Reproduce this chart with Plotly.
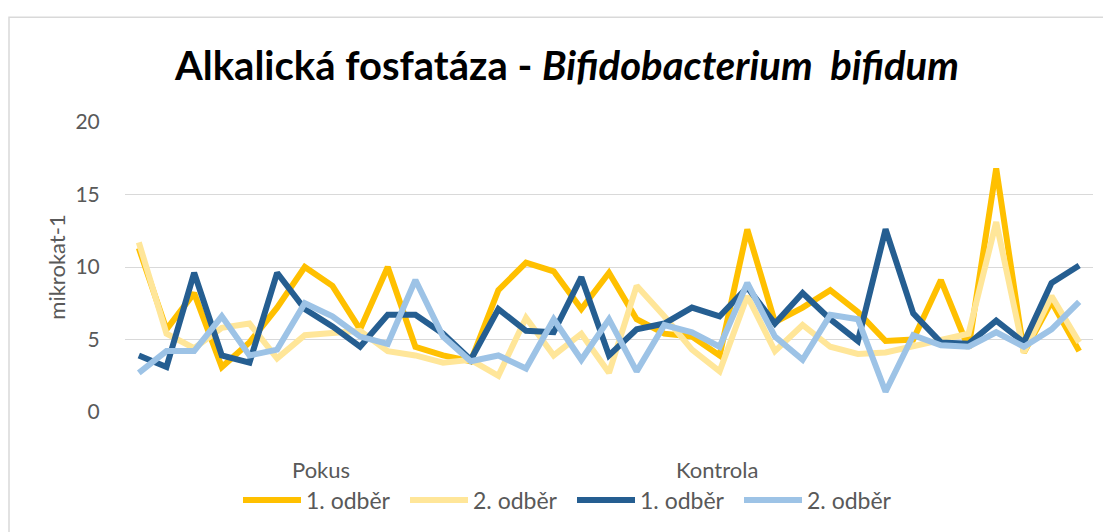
import plotly.graph_objects as go

categories = list(range(1, 36))

pokus_odber1 = [11.3, 5.7, 8.2, 3.1, 4.8, 7.2, 10.0, 8.7, 5.7, 10.0, 4.5, 3.9, 3.5, 8.4, 10.3,
                9.7, 7.1, 9.6, 6.4, 5.4, 5.2, 3.9, 12.6, 6.2, 7.2, 8.4, 6.9, 4.9, 5.0, 9.1,
                4.4, 16.8, 4.1, 7.6, 4.2]
pokus_odber2 = [11.7, 5.4, 4.4, 5.8, 6.1, 3.7, 5.3, 5.5, 5.6, 4.2, 3.9, 3.4, 3.6, 2.5, 6.5,
                3.9, 5.4, 2.7, 8.7, 6.6, 4.3, 2.8, 8.0, 4.2, 6.0, 4.5, 4.0, 4.1, 4.5, 4.9,
                5.4, 13.1, 4.1, 8.0, 4.8]
kontrola_odber1 = [3.9, 3.1, 9.6, 3.9, 3.4, 9.6, 7.1, 5.9, 4.5, 6.7, 6.7, 5.4, 3.6, 7.1, 5.6,
                   5.5, 9.3, 3.9, 5.7, 6.1, 7.2, 6.6, 8.6, 6.1, 8.2, 6.4, 4.9, 12.6, 6.8, 4.8,
                   4.7, 6.3, 4.8, 8.9, 10.1]
kontrola_odber2 = [2.7, 4.2, 4.2, 6.6, 3.9, 4.3, 7.5, 6.6, 5.2, 4.7, 9.1, 5.2, 3.5, 3.9, 3.0,
                   6.4, 3.6, 6.4, 2.8, 6.0, 5.5, 4.5, 8.9, 5.2, 3.6, 6.7, 6.4, 1.4, 5.3, 4.6,
                   4.5, 5.5, 4.5, 5.7, 7.6]

series_names = ["1. odběr", "2. odběr", "1. odběr", "2. odběr"]
group_names = ["Pokus", "Kontrola"]
y_ticks = [0, 5, 10, 15, 20]

FONT = "Lato"
GRAY = "#595959"
colors = ["#FFC000", "#FFE699", "#255E91", "#9DC3E6"]
series = [pokus_odber1, pokus_odber2, kontrola_odber1, kontrola_odber2]

fig = go.Figure()
for name, vals, col in zip(series_names, series, colors):
    fig.add_trace(go.Scatter(
        x=categories, y=vals, mode="lines", name=name,
        line=dict(color=col, width=6),
    ))

OFF = 8  # page body margin
W, H = 1103, 524
L, R, T, B = 117, 18, 114, 119
pw, ph = W - L - R, H - T - B

def px(x):
    return (x - OFF - L) / pw

def py(y):
    return (H - B - (y - OFF)) / ph

fig.update_layout(
    width=W, height=H,
    margin=dict(l=L, r=R, t=T, b=B),
    paper_bgcolor="white", plot_bgcolor="white",
    font=dict(family=FONT, color=GRAY, size=20),
    title=dict(
        text="<b>Alkalická fosfatáza - <i>Bifidobacterium  bifidum</i></b>",
        x=(567 - OFF) / W, xanchor="center", y=1 - (66 - OFF) / H, yanchor="middle",
        font=dict(family=FONT, size=40, color="#000000"),
    ),
    xaxis=dict(
        range=[0.5, 35.5], showticklabels=False, showgrid=False,
        zeroline=False, showline=False, ticks="",
    ),
    yaxis=dict(
        range=[0, 20], tickvals=y_ticks, showgrid=True, gridcolor="#D9D9D9",
        gridwidth=1, zeroline=False, showline=False,
        ticks="outside", ticklen=20, tickcolor="rgba(0,0,0,0)",
        tickfont=dict(size=21, color=GRAY),
        title=dict(text="mikrokat-1", standoff=3, font=dict(size=22, color=GRAY)),
    ),
    legend=dict(
        orientation="h", x=px(238), xanchor="left", y=py(500), yanchor="middle",
        font=dict(size=23, color=GRAY), entrywidth=94, entrywidthmode="pixels",
        itemwidth=58, bgcolor="rgba(0,0,0,0)",
    ),
    showlegend=True,
)

for name, xc in zip(group_names, [321, 717]):
    fig.add_annotation(
        text=name, x=px(xc), y=py(471), xref="paper", yref="paper",
        xanchor="center", yanchor="middle", showarrow=False,
        font=dict(size=22, color=GRAY),
    )

fig.add_shape(
    type="rect", xref="paper", yref="paper",
    x0=px(9), x1=px(1130), y0=py(560), y1=py(17),
    line=dict(color="#D9D9D9", width=1.5), fillcolor="rgba(0,0,0,0)", layer="below",
)

fig.write_html("out.html")
